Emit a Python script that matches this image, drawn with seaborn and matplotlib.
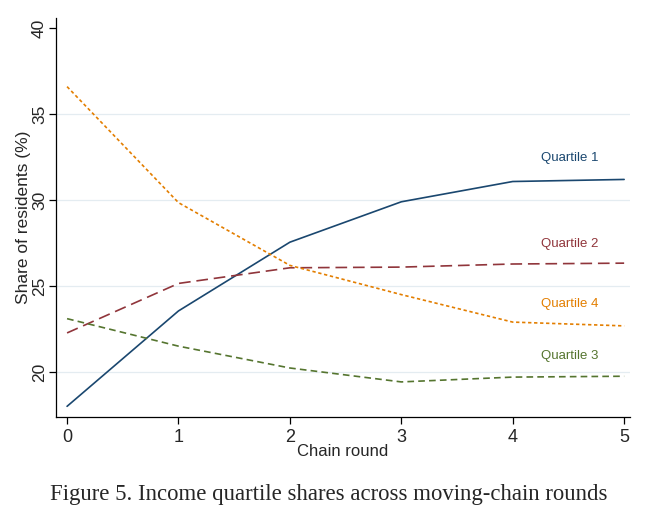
import matplotlib
matplotlib.use("Agg")
import matplotlib.pyplot as plt
import seaborn as sns
import pandas as pd

rounds = [0, 1, 2, 3, 4, 5]
quartile_1 = [18.0, 23.55, 27.55, 29.9, 31.08, 31.2]
quartile_2 = [22.27, 25.15, 26.06, 26.1, 26.28, 26.33]
quartile_3 = [23.1, 21.5, 20.23, 19.42, 19.7, 19.75]
quartile_4 = [36.6, 29.85, 26.2, 24.5, 22.9, 22.68]
series_names = ["Quartile 1", "Quartile 2", "Quartile 3", "Quartile 4"]
colors = ["#1a476f", "#90353b", "#55752f", "#e37e00"]
label_y = [32.45, 27.45, 20.93, 23.96]
yticks = [20, 25, 30, 35, 40]
xticks = [0, 1, 2, 3, 4, 5]

rows = []
for name, vals in zip(series_names, [quartile_1, quartile_2, quartile_3, quartile_4]):
    for r, v in zip(rounds, vals):
        rows.append({"round": r, "share": v, "series": name})
df = pd.DataFrame(rows)

sns.set_style("white")
plt.rcParams['font.family'] = ['Liberation Sans', 'DejaVu Sans']

fig = plt.figure(figsize=(6.58, 5.11), dpi=100)
ax = fig.add_axes([0.085, 0.184, 0.872, 0.781])

dash_styles = {"Quartile 1": "", "Quartile 2": (7, 3.5), "Quartile 3": (4, 2.5), "Quartile 4": (2, 1.6)}
sns.lineplot(data=df, x="round", y="share", hue="series", style="series",
             palette=dict(zip(series_names, colors)), dashes=dash_styles,
             linewidth=1.2, legend=False, ax=ax)

for name, c, ly in zip(series_names, colors, label_y):
    ax.text(4.51, ly, name, color=c, fontsize=9.5, ha="center", va="center")

for t in yticks[:-1]:
    ax.axhline(t, color="#e4ecf1", lw=0.9, zorder=0)

ax.set_xlim(-0.1, 5.05)
ax.set_ylim(17.38, 40.6)
ax.set_xticks(xticks)
ax.set_yticks(yticks)
ax.set_xticklabels([str(x) for x in xticks], fontsize=13)
ax.set_yticklabels([str(y) for y in yticks], fontsize=12.5, rotation=90, va="center")
ax.tick_params(axis="both", direction="out", length=5, width=0.9, color="black", bottom=True, left=True)
ax.tick_params(axis="x", pad=3.5)
ax.tick_params(axis="y", pad=1.5)
ax.set_xlabel("Chain round", fontsize=12, labelpad=-1)
ax.set_ylabel("Share of residents (%)", fontsize=12.5, labelpad=1)
for s in ["top", "right"]:
    ax.spines[s].set_visible(False)
for s in ["left", "bottom"]:
    ax.spines[s].set_color("black")
    ax.spines[s].set_linewidth(0.9)

fig.text(0.5, 0.033, "Figure 5. Income quartile shares across moving-chain rounds",
         ha="center", va="center", fontsize=16.4, family=["Liberation Serif", "DejaVu Serif"])

fig.savefig("out.png", dpi=100, facecolor="white")
